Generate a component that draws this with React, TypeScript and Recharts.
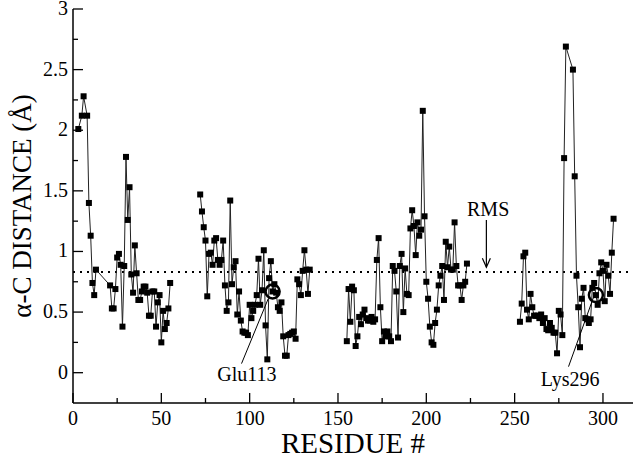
import React from 'react';
import { LineChart, Line, XAxis, YAxis, ReferenceLine, ReferenceDot } from 'recharts';

const FONT = '"Liberation Serif", "Times New Roman", serif';

// residue numbers and alpha-C distances, one pair of arrays per continuous stretch
const residuesA = [3, 5, 6, 8, 9, 10, 11, 12, 13, 21, 22, 23, 24, 25, 26, 27, 28, 29, 30, 31, 32, 33, 34, 35, 36, 37, 38, 39, 40, 41, 42, 43, 44, 45, 46, 47, 48, 49, 50, 51, 52, 53, 54, 55];
const distA = [2.01, 2.12, 2.28, 2.12, 1.4, 1.13, 0.74, 0.64, 0.85, 0.72, 0.53, 0.53, 0.69, 0.95, 0.98, 0.89, 0.38, 0.88, 1.78, 1.26, 1.53, 0.81, 0.66, 1.05, 0.82, 0.6, 0.6, 0.67, 0.71, 0.71, 0.66, 0.47, 0.47, 0.67, 0.67, 0.38, 0.58, 0.64, 0.25, 0.51, 0.36, 0.41, 0.53, 0.74];

const residuesB = [72, 73, 74, 75, 76, 77, 78, 79, 80, 81, 82, 83, 84, 85, 86, 87, 88, 89, 90, 91, 92, 93, 94, 95, 96, 97, 98, 99, 100, 101, 102, 103, 104, 105, 106, 107, 108, 109, 110, 111, 112, 113, 114, 115, 116, 117, 118, 119, 120, 121, 122, 123, 124, 125, 126, 127, 128, 129, 130, 131, 132, 133, 134];
const distB = [1.47, 1.33, 1.2, 1.09, 0.63, 0.98, 0.99, 0.89, 1.09, 1.11, 0.93, 0.89, 0.93, 1.09, 0.72, 0.51, 0.58, 1.42, 0.73, 0.87, 0.92, 0.48, 0.67, 0.43, 0.34, 0.33, 0.33, 0.31, 0.56, 0.45, 0.51, 0.56, 0.64, 0.94, 0.56, 0.68, 1.01, 0.39, 0.11, 0.78, 0.92, 0.67, 0.73, 0.66, 0.54, 0.51, 0.58, 0.3, 0.14, 0.14, 0.31, 0.32, 0.33, 0.34, 0.28, 0.77, 0.73, 0.64, 0.84, 1.01, 0.85, 0.65, 0.85];

const residuesC = [155, 156, 157, 158, 159, 160, 161, 162, 163, 164, 165, 166, 167, 168, 169, 170, 171, 172, 173, 174, 175, 176, 177, 178, 179, 180, 181, 182, 183, 184, 185, 186, 187, 188, 189, 190, 191, 192, 193, 194, 195, 196, 197, 198, 199, 200, 201, 202, 203, 204, 205, 206, 207, 208, 209, 210, 211, 212, 213, 214, 215, 216, 217, 218, 219, 220, 221, 222, 223];
const distC = [0.26, 0.69, 0.42, 0.71, 0.68, 0.22, 0.3, 0.46, 0.4, 0.48, 0.52, 0.45, 0.43, 0.43, 0.46, 0.42, 0.44, 0.93, 1.11, 0.54, 0.26, 0.34, 0.3, 0.34, 0.3, 0.26, 0.88, 0.84, 0.67, 0.29, 0.88, 0.98, 0.5, 0.86, 0.65, 0.64, 1.19, 1.34, 1.21, 0.97, 1.24, 1.13, 1.18, 2.16, 1.29, 0.75, 0.61, 0.38, 0.25, 0.23, 0.41, 0.52, 0.72, 0.8, 0.88, 0.6, 1.08, 0.87, 1.04, 0.85, 0.85, 1.24, 0.88, 0.72, 0.72, 0.6, 0.72, 0.75, 0.9];

const residuesD = [253, 254, 255, 256, 257, 258, 259, 260, 261, 262, 263, 264, 265, 266, 267, 268, 269, 270, 271, 272, 273, 274, 275, 276, 277, 278, 279, 283, 284, 285, 286, 287, 288, 289, 290, 291, 292, 293, 294, 295, 296, 297, 298, 299, 300, 301, 302, 303, 304, 305, 306];
const distD = [0.42, 0.57, 0.96, 0.99, 0.52, 0.44, 0.65, 0.54, 0.47, 0.47, 0.47, 0.45, 0.48, 0.41, 0.45, 0.36, 0.35, 0.41, 0.37, 0.33, 0.33, 0.16, 0.51, 0.48, 0.31, 1.77, 2.69, 2.5, 1.62, 0.8, 0.54, 0.21, 0.61, 0.7, 0.45, 0.44, 0.41, 0.44, 0.7, 0.74, 0.64, 0.56, 0.82, 0.91, 0.84, 0.59, 0.89, 0.8, 0.65, 0.99, 1.27];

const rmsDistance = 0.83;
const glu113 = { x: 113, y: 0.67 };
const lys296 = { x: 296, y: 0.64 };

const xTicks = [0, 25, 50, 75, 100, 125, 150, 175, 200, 225, 250, 275, 300];
const yTicks = [0, 0.25, 0.5, 0.75, 1, 1.25, 1.5, 1.75, 2, 2.25, 2.5, 2.75, 3];

const toRows = (xs: number[], ys: number[]) => xs.map((x, i) => ({ x, y: ys[i] }));
const segments = [
  toRows(residuesA, distA),
  toRows(residuesB, distB),
  toRows(residuesC, distC),
  toRows(residuesD, distD),
];

const isMajorX = (v: number) => v % 50 === 0;
const isMajorY = (v: number) => Math.abs(v * 2 - Math.round(v * 2)) < 1e-6;

function BottomTick({ x, y, payload }: any) {
  const major = isMajorX(payload.value);
  return (
    <g>
      <line x1={x} y1={y} x2={x} y2={y - (major ? 10 : 5)} stroke="#000" strokeWidth={1.3} />
      {major && (
        <text x={x} y={y + 22} textAnchor="middle" fontSize={20} fontFamily={FONT} fill="#000">
          {payload.value}
        </text>
      )}
    </g>
  );
}

function TopTick({ x, y, payload }: any) {
  const major = isMajorX(payload.value);
  return <line x1={x} y1={y} x2={x} y2={y + (major ? 10 : 5)} stroke="#000" strokeWidth={1.3} />;
}

function LeftTick({ x, y, payload }: any) {
  const major = isMajorY(payload.value);
  return (
    <g>
      <line x1={x} y1={y} x2={x + (major ? 10 : 5)} y2={y} stroke="#000" strokeWidth={1.3} />
      {major && (
        <text x={x - 5} y={y + 6} textAnchor="end" fontSize={20} fontFamily={FONT} fill="#000">
          {String(payload.value)}
        </text>
      )}
    </g>
  );
}

function RightTick({ x, y, payload }: any) {
  const major = isMajorY(payload.value);
  return <line x1={x} y1={y} x2={x - (major ? 10 : 5)} y2={y} stroke="#000" strokeWidth={1.3} />;
}

const SquareDot = (props: any) => {
  const { cx, cy, index } = props;
  if (cx == null || cy == null) return <g key={index} />;
  return <rect key={index} x={cx - 3} y={cy - 3} width={6} height={6} fill="#000" />;
};

const TextMark = (text: string) => (props: any) => (
  <text x={props.cx} y={props.cy} textAnchor="middle" dominantBaseline="central" fontSize={20} fontFamily={FONT} fill="#000">
    {text}
  </text>
);

const ArrowHead = (props: any) => (
  <path d={`M${props.cx - 4},${props.cy - 9} L${props.cx},${props.cy} L${props.cx + 4},${props.cy - 9}`} fill="none" stroke="#000" strokeWidth={1.2} />
);

export default function App() {
  return (
    <div style={{ position: 'absolute', left: 0, top: 0, background: '#fff' }}>
      <LineChart width={640} height={459} margin={{ top: 9, right: 7, bottom: 0, left: 0 }}>
        <XAxis
          xAxisId={0}
          type="number"
          dataKey="x"
          domain={[0, 317]}
          ticks={xTicks}
          interval={0}
          height={56}
          tickSize={0}
          tickMargin={0}
          tickLine={false}
          tick={<BottomTick />}
          axisLine={{ stroke: '#000', strokeWidth: 1.5 }}
          label={{
            content: ({ viewBox }: any) => (
              <text x={viewBox.x + viewBox.width / 2} y={viewBox.y + 50} textAnchor="middle" fontSize={29} fontFamily={FONT} fill="#000">
                RESIDUE #
              </text>
            ),
          }}
        />
        <XAxis
          xAxisId="top"
          orientation="top"
          type="number"
          dataKey="x"
          domain={[0, 317]}
          ticks={xTicks}
          interval={0}
          height={0}
          tickSize={0}
          tickMargin={0}
          tickLine={false}
          tick={<TopTick />}
          axisLine={{ stroke: '#000', strokeWidth: 1.5 }}
        />
        <YAxis
          yAxisId={0}
          type="number"
          domain={[-0.25, 3]}
          ticks={yTicks}
          interval={0}
          width={73}
          tickSize={0}
          tickMargin={0}
          tickLine={false}
          tick={<LeftTick />}
          axisLine={{ stroke: '#000', strokeWidth: 1.5 }}
          label={{
            content: ({ viewBox }: any) => {
              const cx = viewBox.x + 22;
              const cy = viewBox.y + viewBox.height / 2;
              return (
                <text x={cx} y={cy} transform={`rotate(-90 ${cx} ${cy})`} textAnchor="middle" dominantBaseline="central" fontSize={27} fontFamily={FONT} fill="#000">
                  α-C DISTANCE (Å)
                </text>
              );
            },
          }}
        />
        <YAxis
          yAxisId="right"
          orientation="right"
          type="number"
          domain={[-0.25, 3]}
          ticks={yTicks}
          interval={0}
          width={0}
          tickSize={0}
          tickMargin={0}
          tickLine={false}
          tick={<RightTick />}
          axisLine={{ stroke: '#000', strokeWidth: 1.5 }}
        />

        <ReferenceLine y={rmsDistance} stroke="#000" strokeWidth={2} strokeDasharray="2 5" />

        {segments.map((seg, i) => (
          <Line
            key={i}
            data={seg}
            dataKey="y"
            type="linear"
            stroke="#222"
            strokeWidth={1}
            dot={SquareDot}
            activeDot={false}
            isAnimationActive={false}
          />
        ))}

        <ReferenceDot x={glu113.x} y={glu113.y} r={7} fill="none" stroke="#000" strokeWidth={2.5} />
        <ReferenceDot x={lys296.x} y={lys296.y} r={7} fill="none" stroke="#000" strokeWidth={2.5} />

        <ReferenceLine segment={[{ x: 95.4, y: 0.075 }, { x: 110.5, y: 0.61 }]} stroke="#000" strokeWidth={1} />
        <ReferenceDot x={98.4} y={-0.01} shape={TextMark('Glu113')} />
        <ReferenceLine segment={[{ x: 280.5, y: 0.05 }, { x: 294.6, y: 0.62 }]} stroke="#000" strokeWidth={1} />
        <ReferenceDot x={281.4} y={-0.05} shape={TextMark('Lys296')} />

        <ReferenceDot x={235} y={1.35} shape={TextMark('RMS')} />
        <ReferenceLine segment={[{ x: 234, y: 1.26 }, { x: 234, y: 0.87 }]} stroke="#000" strokeWidth={1.2} />
        <ReferenceDot x={234} y={0.87} shape={ArrowHead} />
      </LineChart>
    </div>
  );
}
